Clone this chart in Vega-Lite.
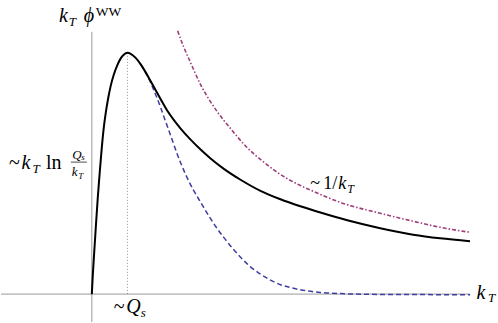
{
  "$schema": "https://vega.github.io/schema/vega-lite/v6.json",
  "width": 498,
  "height": 323,
  "autosize": {"type": "fit", "contains": "padding"},
  "padding": 0,
  "background": "white",
  "config": {"view": {"stroke": null}, "text": {"font": "Liberation Serif", "align": "left", "baseline": "alphabetic", "color": "black"}},
  "data": {"values": [{}]},
  "datasets": {
    "black": [
      {"k": 0, "f": 0}, {"k": 0.028, "f": 0.079}, {"k": 0.064, "f": 0.165}, {"k": 0.112, "f": 0.277},
      {"k": 0.168, "f": 0.401}, {"k": 0.224, "f": 0.508}, {"k": 0.28, "f": 0.607}, {"k": 0.336, "f": 0.69},
      {"k": 0.392, "f": 0.752}, {"k": 0.462, "f": 0.814}, {"k": 0.532, "f": 0.864}, {"k": 0.616, "f": 0.909},
      {"k": 0.72, "f": 0.95}, {"k": 0.812, "f": 0.977}, {"k": 0.896, "f": 0.992}, {"k": 1.0, "f": 1.0},
      {"k": 1.092, "f": 0.996}, {"k": 1.232, "f": 0.979}, {"k": 1.373, "f": 0.952}, {"k": 1.513, "f": 0.919},
      {"k": 1.653, "f": 0.882}, {"k": 1.793, "f": 0.845}, {"k": 1.933, "f": 0.808}, {"k": 2.12, "f": 0.76},
      {"k": 2.305, "f": 0.721}, {"k": 2.493, "f": 0.686}, {"k": 2.773, "f": 0.64}, {"k": 3.053, "f": 0.599},
      {"k": 3.333, "f": 0.562}, {"k": 3.706, "f": 0.519}, {"k": 4.174, "f": 0.474}, {"k": 4.734, "f": 0.428},
      {"k": 5.294, "f": 0.393}, {"k": 5.854, "f": 0.364}, {"k": 6.415, "f": 0.338}, {"k": 7.171, "f": 0.306},
      {"k": 8.095, "f": 0.273}, {"k": 9.02, "f": 0.246}, {"k": 9.776, "f": 0.231}, {"k": 10.616, "f": 0.219}
    ],
    "blue": [
      {"k": 1.373, "f": 0.952}, {"k": 1.513, "f": 0.917}, {"k": 1.653, "f": 0.876}, {"k": 1.793, "f": 0.826},
      {"k": 1.933, "f": 0.773}, {"k": 2.073, "f": 0.715}, {"k": 2.213, "f": 0.657}, {"k": 2.401, "f": 0.579},
      {"k": 2.633, "f": 0.496}, {"k": 2.857, "f": 0.43}, {"k": 3.053, "f": 0.381}, {"k": 3.277, "f": 0.326},
      {"k": 3.473, "f": 0.281}, {"k": 3.697, "f": 0.236}, {"k": 3.95, "f": 0.19}, {"k": 4.174, "f": 0.153},
      {"k": 4.454, "f": 0.113}, {"k": 4.734, "f": 0.083}, {"k": 5.014, "f": 0.058}, {"k": 5.294, "f": 0.039},
      {"k": 5.574, "f": 0.027}, {"k": 5.854, "f": 0.018}, {"k": 6.415, "f": 0.007}, {"k": 6.975, "f": 0.002},
      {"k": 7.815, "f": -0.001}, {"k": 9.216, "f": -0.002}, {"k": 10.616, "f": -0.003}
    ],
    "purple": [
      {"k": 2.409, "f": 1.091}, {"k": 2.577, "f": 1.025}, {"k": 2.773, "f": 0.959}, {"k": 3.053, "f": 0.868},
      {"k": 3.277, "f": 0.81}, {"k": 3.521, "f": 0.756}, {"k": 3.894, "f": 0.686}, {"k": 4.361, "f": 0.607},
      {"k": 4.734, "f": 0.558}, {"k": 5.294, "f": 0.496}, {"k": 5.854, "f": 0.45}, {"k": 6.218, "f": 0.426},
      {"k": 6.975, "f": 0.38}, {"k": 8.095, "f": 0.335}, {"k": 9.02, "f": 0.302}, {"k": 9.776, "f": 0.277},
      {"k": 10.616, "f": 0.256}
    ]
  },
  "layer": [
    {
      "mark": {"type": "rule", "color": "#999999", "strokeWidth": 1},
      "encoding": {
        "x": {"datum": 0, "type": "quantitative", "scale": {"domain": [-2.549, 11.401], "nice": false, "zero": false}, "axis": null},
        "y": {"datum": 1.087, "type": "quantitative", "scale": {"domain": [-0.1157, 1.219], "nice": false, "zero": false}, "axis": null},
        "y2": {"datum": -0.1157}
      }
    },
    {
      "mark": {"type": "rule", "color": "#999999", "strokeWidth": 1},
      "encoding": {
        "y": {"datum": 0, "type": "quantitative", "axis": null},
        "x": {"datum": -2.549, "type": "quantitative", "axis": null},
        "x2": {"datum": 10.616}
      }
    },
    {
      "mark": {"type": "rule", "color": "#777777", "strokeWidth": 0.8, "strokeDash": [1, 2]},
      "encoding": {
        "x": {"datum": 1, "type": "quantitative", "axis": null},
        "y": {"datum": 1, "type": "quantitative", "axis": null},
        "y2": {"datum": 0}
      }
    },
    {
      "data": {"name": "purple"},
      "mark": {"type": "line", "color": "#a03c78", "strokeWidth": 1.6, "strokeDash": [4, 2, 1.5, 2], "interpolate": "monotone"},
      "encoding": {
        "x": {"field": "k", "type": "quantitative", "axis": null},
        "y": {"field": "f", "type": "quantitative", "axis": null}
      }
    },
    {
      "data": {"name": "blue"},
      "mark": {"type": "line", "color": "#3e3ea0", "strokeWidth": 1.5, "strokeDash": [5, 3], "interpolate": "monotone"},
      "encoding": {
        "x": {"field": "k", "type": "quantitative", "axis": null},
        "y": {"field": "f", "type": "quantitative", "axis": null}
      }
    },
    {
      "data": {"name": "black"},
      "mark": {"type": "line", "color": "black", "strokeWidth": 2, "interpolate": "monotone"},
      "encoding": {
        "x": {"field": "k", "type": "quantitative", "axis": null},
        "y": {"field": "f", "type": "quantitative", "axis": null}
      }
    },
    {
      "mark": {"type": "text", "text": "k", "fontStyle": "italic", "fontSize": 20},
      "encoding": {"x": {"datum": -0.924, "type": "quantitative"}, "y": {"datum": 1.128, "type": "quantitative"}}
    },
    {
      "mark": {"type": "text", "text": "T", "fontStyle": "italic", "fontSize": 13},
      "encoding": {"x": {"datum": -0.644, "type": "quantitative"}, "y": {"datum": 1.112, "type": "quantitative"}}
    },
    {
      "mark": {"type": "text", "text": "ϕ", "fontStyle": "italic", "fontSize": 20},
      "encoding": {"x": {"datum": -0.224, "type": "quantitative"}, "y": {"datum": 1.128, "type": "quantitative"}}
    },
    {
      "mark": {"type": "text", "text": "WW", "fontSize": 13.5},
      "encoding": {"x": {"datum": 0.112, "type": "quantitative"}, "y": {"datum": 1.153, "type": "quantitative"}}
    },
    {
      "mark": {"type": "text", "text": "~", "fontSize": 20},
      "encoding": {"x": {"datum": -2.325, "type": "quantitative"}, "y": {"datum": 0.517, "type": "quantitative"}}
    },
    {
      "mark": {"type": "text", "text": "k", "fontStyle": "italic", "fontSize": 20},
      "encoding": {"x": {"datum": -1.975, "type": "quantitative"}, "y": {"datum": 0.517, "type": "quantitative"}}
    },
    {
      "mark": {"type": "text", "text": "T", "fontStyle": "italic", "fontSize": 13},
      "encoding": {"x": {"datum": -1.667, "type": "quantitative"}, "y": {"datum": 0.5, "type": "quantitative"}}
    },
    {
      "mark": {"type": "text", "text": "ln", "fontSize": 20},
      "encoding": {"x": {"datum": -1.289, "type": "quantitative"}, "y": {"datum": 0.517, "type": "quantitative"}}
    },
    {
      "mark": {"type": "text", "text": "Q", "fontStyle": "italic", "fontSize": 13},
      "encoding": {"x": {"datum": -0.546, "type": "quantitative"}, "y": {"datum": 0.562, "type": "quantitative"}}
    },
    {
      "mark": {"type": "text", "text": "s", "fontStyle": "italic", "fontSize": 9},
      "encoding": {"x": {"datum": -0.294, "type": "quantitative"}, "y": {"datum": 0.554, "type": "quantitative"}}
    },
    {
      "mark": {"type": "rule", "color": "black", "strokeWidth": 0.7},
      "encoding": {"y": {"datum": 0.547, "type": "quantitative"}, "x": {"datum": -0.588, "type": "quantitative"}, "x2": {"datum": -0.14}}
    },
    {
      "mark": {"type": "text", "text": "k", "fontStyle": "italic", "fontSize": 13},
      "encoding": {"x": {"datum": -0.56, "type": "quantitative"}, "y": {"datum": 0.49, "type": "quantitative"}}
    },
    {
      "mark": {"type": "text", "text": "T", "fontStyle": "italic", "fontSize": 9},
      "encoding": {"x": {"datum": -0.378, "type": "quantitative"}, "y": {"datum": 0.479, "type": "quantitative"}}
    },
    {
      "mark": {"type": "text", "text": "~", "fontSize": 20},
      "encoding": {"x": {"datum": 0.616, "type": "quantitative"}, "y": {"datum": -0.0785, "type": "quantitative"}}
    },
    {
      "mark": {"type": "text", "text": "Q", "fontStyle": "italic", "fontSize": 20},
      "encoding": {"x": {"datum": 0.966, "type": "quantitative"}, "y": {"datum": -0.0785, "type": "quantitative"}}
    },
    {
      "mark": {"type": "text", "text": "s", "fontStyle": "italic", "fontSize": 13},
      "encoding": {"x": {"datum": 1.373, "type": "quantitative"}, "y": {"datum": -0.095, "type": "quantitative"}}
    },
    {
      "mark": {"type": "text", "text": "~", "fontSize": 18},
      "encoding": {"x": {"datum": 6.134, "type": "quantitative"}, "y": {"datum": 0.434, "type": "quantitative"}}
    },
    {
      "mark": {"type": "text", "text": "1/", "fontSize": 18},
      "encoding": {"x": {"datum": 6.499, "type": "quantitative"}, "y": {"datum": 0.434, "type": "quantitative"}}
    },
    {
      "mark": {"type": "text", "text": "k", "fontStyle": "italic", "fontSize": 18},
      "encoding": {"x": {"datum": 6.919, "type": "quantitative"}, "y": {"datum": 0.434, "type": "quantitative"}}
    },
    {
      "mark": {"type": "text", "text": "T", "fontStyle": "italic", "fontSize": 12},
      "encoding": {"x": {"datum": 7.171, "type": "quantitative"}, "y": {"datum": 0.421, "type": "quantitative"}}
    },
    {
      "mark": {"type": "text", "text": "k", "fontStyle": "italic", "fontSize": 20},
      "encoding": {"x": {"datum": 10.798, "type": "quantitative"}, "y": {"datum": -0.0207, "type": "quantitative"}}
    },
    {
      "mark": {"type": "text", "text": "T", "fontStyle": "italic", "fontSize": 13},
      "encoding": {"x": {"datum": 11.12, "type": "quantitative"}, "y": {"datum": -0.033, "type": "quantitative"}}
    }
  ]
}
